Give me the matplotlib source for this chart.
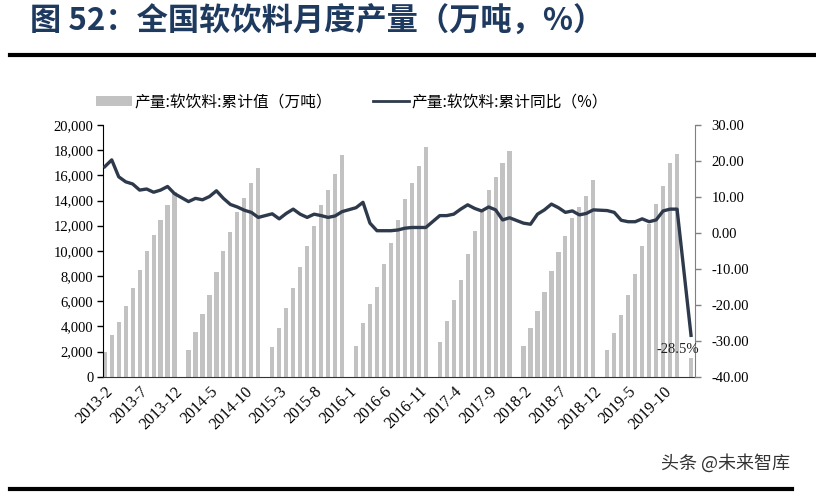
import numpy as np
import matplotlib.pyplot as plt
from matplotlib.lines import Line2D
from matplotlib.patches import Patch

nan = np.nan

# month labels 2013-2 ... 2020-2
months = ['2013-%d' % m for m in range(2, 13)]
for y in range(2014, 2020):
    months += ['%d-%d' % (y, m) for m in range(1, 13)]
months += ['2020-1', '2020-2']

# 累计值（万吨）, January has no value
output_cum = [
    1940, 3310, 4370, 5650, 7030, 8510, 9990, 11260, 12430, 13620, 14650,
    nan, 2120, 3580, 4980, 6470, 8300, 9990, 11480, 13070, 14230, 15400, 16570,
    nan, 2340, 3850, 5440, 7030, 8700, 10410, 12000, 13620, 14860, 16140, 17620,
    nan, 2470, 4240, 5750, 7130, 8930, 10630, 12430, 14130, 15400, 16770, 18260,
    nan, 2780, 4450, 6070, 7660, 9780, 11580, 13230, 14860, 15870, 16990, 17970,
    nan, 2470, 3850, 5220, 6710, 8400, 9890, 11160, 12640, 13490, 14340, 15610,
    nan, 2120, 3500, 4900, 6490, 8190, 10410, 12110, 13700, 15180, 16990, 17730,
    nan, 1520,
]

# 累计同比（%）
output_yoy = [
    18.4, 20.3, 15.6, 14.2, 13.6, 11.9, 12.2, 11.3, 11.9, 12.9, 10.9,
    nan, 8.7, 9.6, 9.2, 10.1, 11.7, 9.6, 7.9, 7.2, 6.3, 5.7, 4.3,
    nan, 5.3, 3.9, 5.4, 6.6, 5.2, 4.3, 5.2, 4.8, 4.3, 4.7, 5.9,
    nan, 7.0, 8.5, 2.7, 0.6, 0.6, 0.6, 0.8, 1.3, 1.5, 1.5, 1.5,
    nan, 4.8, 4.8, 5.2, 6.6, 7.8, 6.8, 6.1, 7.2, 6.4, 3.6, 4.2,
    nan, 2.7, 2.4, 5.2, 6.4, 8.0, 7.0, 5.7, 6.1, 5.0, 5.4, 6.4,
    nan, 6.2, 5.7, 3.5, 3.1, 3.1, 3.9, 3.1, 3.6, 6.1, 6.6, 6.6,
    nan, -28.5,
]

bar_label = '产量:软饮料:累计值（万吨）'
line_label = '产量:软饮料:累计同比（%）'
title = '图 52：全国软饮料月度产量（万吨，%）'

cjk = ['Noto Sans CJK SC', 'DejaVu Sans']
serif = 'Liberation Serif'
bar_color = '#c2c2c2'
line_color = '#2e3a4b'

x = np.arange(len(months))
cum = np.array(output_cum, dtype=float)
yoy = np.array(output_yoy, dtype=float)

fig = plt.figure(figsize=(8.16, 4.93), dpi=100)
ax = fig.add_axes([103 / 816, 1 - 376.7 / 493, (695 - 103) / 816, (376.7 - 125) / 493])
ax2 = ax.twinx()

ax.bar(x, cum, width=0.6, color=bar_color, zorder=2)
mask = ~np.isnan(yoy)
ax2.plot(x[mask], yoy[mask], color=line_color, lw=2.4, solid_joinstyle='round', zorder=3)

ax.set_xlim(-0.25, len(months) - 1 + 0.57)
ax.set_ylim(0, 20000)
ax.set_yticks(np.arange(0, 20001, 2000))
ax.set_yticklabels(['{:,}'.format(v) for v in range(0, 20001, 2000)])
ax2.set_ylim(-40, 30)
ax2.set_yticks(np.arange(-40, 31, 10))
ax2.set_yticklabels(['%.2f' % v for v in range(-40, 31, 10)])

ax.set_xticks(x[::5])
ax.set_xticklabels(months[::5], rotation=45, ha='right', rotation_mode='anchor',
                   fontsize=11.5, family=serif)
ax.tick_params(axis='x', length=0, pad=5)
ax.tick_params(axis='y', direction='out', length=4, width=1, labelsize=10.5, pad=3)
for t in ax.get_yticklabels():
    t.set_family(serif)
ax2.tick_params(axis='y', direction='out', length=4, width=1, labelsize=10.5, pad=8,
                color='#808080')
for t in ax2.get_yticklabels():
    t.set_family(serif)

for a in (ax, ax2):
    a.spines['top'].set_visible(False)
ax.spines['right'].set_visible(False)
ax2.spines['left'].set_visible(False)
ax2.spines['bottom'].set_visible(False)
ax2.spines['right'].set_color('#808080')
ax.spines['left'].set_color('black')
ax.spines['bottom'].set_color('#333333')

ax2.annotate('%.1f%%' % yoy[-1], xy=(x[-1], yoy[-1]), xytext=(-13, -14),
             textcoords='offset pixels', ha='center', va='center',
             fontsize=10.5, family=serif, color='#222222')

handles = [Patch(facecolor=bar_color, edgecolor='none'),
           Line2D([], [], color=line_color, lw=2)]
fig.legend(handles, [bar_label, line_label], ncol=2, loc='center',
           bbox_to_anchor=(352 / 816, 1 - 102 / 493), frameon=False,
           prop={'family': cjk, 'size': 11.3}, handlelength=2.3, handleheight=0.55,
           handletextpad=0.15, columnspacing=2.6)

fig.text(30 / 816, 1 - 22 / 493, title, family=cjk, fontsize=22.5, fontweight='bold',
         color='#1f3a5f', va='center', ha='left')
fig.add_artist(Line2D([10 / 816, 1.0], [1 - 55 / 493] * 2, color='black', lw=3))
fig.add_artist(Line2D([10 / 816, 792 / 816], [1 - 489 / 493] * 2, color='black', lw=3))
fig.text(790 / 816, 1 - 463 / 493, '头条 @未来智库', family=cjk, fontsize=13,
         color='#333333', ha='right', va='center')

fig.savefig('out.png', dpi=100)
